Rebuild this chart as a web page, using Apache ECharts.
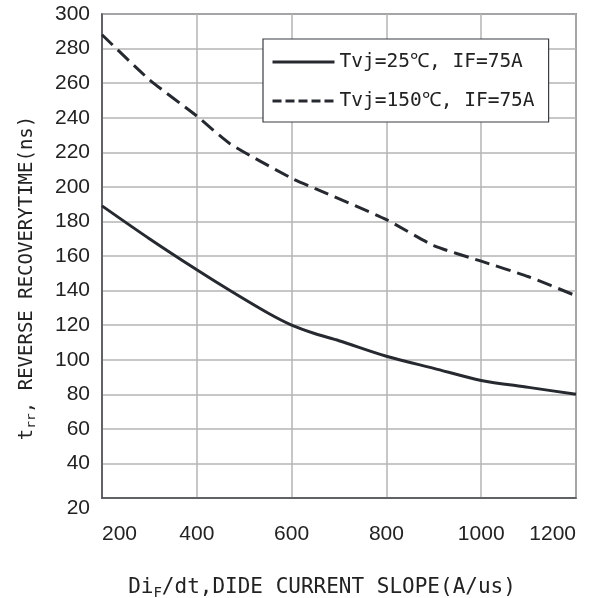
<!DOCTYPE html>
<html>
<head>
<meta charset="utf-8">
<script src="https://cdn.jsdelivr.net/npm/echarts@6/dist/echarts.min.js"></script>
<style>html,body{margin:0;padding:0;background:#fff}#c{width:600px;height:598px}</style>
</head>
<body>
<div id="c"></div>
<script>
const xTicks = [200, 400, 600, 800, 1000, 1200];
const yTicks = [20, 40, 60, 80, 100, 120, 140, 160, 180, 200, 220, 240, 260, 280, 300];
const seriesNames = ['Tvj=25℃, IF=75A', 'Tvj=150℃, IF=75A'];
const diDt25 = [200, 300, 400, 470, 550, 600, 650, 700, 800, 900, 1000, 1100, 1200];
const trr25 = [189, 170, 152, 140, 127, 120, 115, 111, 102, 95, 88, 84, 80];
const diDt150 = [200, 300, 400, 470, 600, 650, 800, 900, 1000, 1100, 1200];
const trr150 = [288, 262, 241, 225, 205, 199, 181, 166, 157, 148, 137];

const lineColor = '#262a30';
const labelFont = '"Liberation Sans", Arial, sans-serif';
const monoFont = '"DejaVu Sans Mono", "Liberation Mono", monospace';

const chart = echarts.init(document.getElementById('c'));
chart.setOption({
  backgroundColor: '#fff',
  animation: false,
  grid: { left: 102, right: 24, top: 14, bottom: 100, containLabel: false, outerBoundsMode: 'none', show: true, borderColor: '#4a4d52', borderWidth: 1.5, backgroundColor: 'transparent' },
  legend: {
    data: [
      { name: seriesNames[0], lineStyle: { width: 3 } },
      { name: seriesNames[1], lineStyle: { type: [9, 4], width: 3 } }
    ],
    orient: 'vertical',
    left: 263, top: 39,
    backgroundColor: '#fff',
    borderColor: '#3a3d42', borderWidth: 1.2,
    padding: [13, 14, 11, 8],
    itemWidth: 62, itemHeight: 16, itemGap: 19,
    itemStyle: { opacity: 0 },
    textStyle: { fontFamily: monoFont, fontSize: 19.5, color: '#222' }
  },
  xAxis: {
    type: 'value', min: xTicks[0], max: xTicks[xTicks.length - 1], interval: 200,
    axisLine: { show: true, lineStyle: { color: '#4a4d52', width: 1.5 } },
    axisTick: { show: false },
    splitLine: { show: true, lineStyle: { color: '#b4b4b4', width: 1.5 } },
    axisLabel: { margin: 26, fontFamily: labelFont, fontSize: 21, color: '#222', alignMinLabel: 'left', alignMaxLabel: 'right', formatter: v => String(v) },
    name: 'Di{sub|F}/dt,DIDE CURRENT SLOPE(A/us)',
    nameLocation: 'middle', nameGap: 78,
    nameTextStyle: {
      fontFamily: monoFont, fontSize: 21, color: '#222', padding: [0, 34, 0, 0],
      rich: { sub: { fontFamily: monoFont, fontSize: 14, color: '#222', verticalAlign: 'bottom', padding: [10, 0, 0, 0] } }
    }
  },
  yAxis: {
    type: 'value', min: yTicks[0], max: yTicks[yTicks.length - 1], interval: 20,
    axisLine: { show: true, lineStyle: { color: '#4a4d52', width: 1.5 } },
    axisTick: { show: false },
    splitLine: { show: true, lineStyle: { color: '#b4b4b4', width: 1.5 } },
    axisLabel: {
      margin: 12, fontFamily: labelFont, fontSize: 21, color: '#222',
      formatter: v => v === yTicks[0] ? '{low|' + v + '}' : String(v),
      rich: { low: { fontFamily: labelFont, fontSize: 21, color: '#222', padding: [20, 0, 0, 0] } }
    },
    name: 't{sub|rr}, REVERSE RECOVERYTIME(ns)',
    nameLocation: 'middle', nameGap: 64, nameRotate: 90,
    nameTextStyle: {
      fontFamily: monoFont, fontSize: 19, color: '#222', padding: [0, 44, 0, 0],
      rich: { sub: { fontFamily: monoFont, fontSize: 13, color: '#222', padding: [8, 0, 0, 0] } }
    }
  },
  series: [
    {
      name: seriesNames[0], type: 'line', smooth: 0.3, symbol: 'none',
      data: diDt25.map((x, i) => [x, trr25[i]]),
      lineStyle: { color: lineColor, width: 3 }, itemStyle: { color: lineColor }
    },
    {
      name: seriesNames[1], type: 'line', smooth: 0.2, symbol: 'none',
      data: diDt150.map((x, i) => [x, trr150[i]]),
      lineStyle: { color: lineColor, width: 3, type: [15, 7] }, itemStyle: { color: lineColor }
    }
  ]
});
</script>
</body>
</html>
